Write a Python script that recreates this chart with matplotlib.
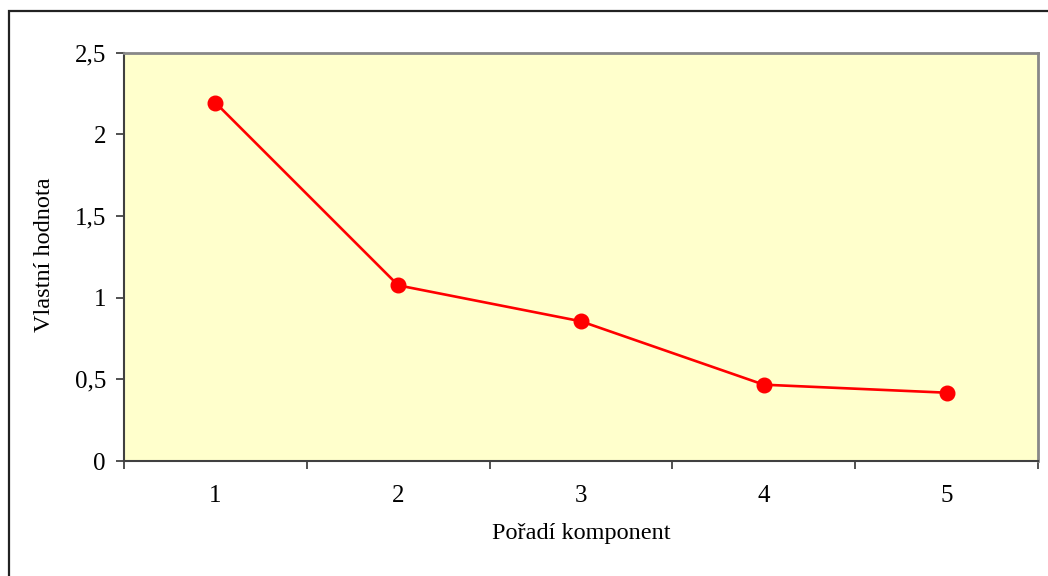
import matplotlib
matplotlib.use("Agg")
import matplotlib.pyplot as plt
from matplotlib.patches import Rectangle
from matplotlib.ticker import FixedLocator, FuncFormatter

components = [1, 2, 3, 4, 5]
eigenvalues = [2.193, 1.075, 0.855, 0.467, 0.418]
y_ticks = [0, 0.5, 1, 1.5, 2, 2.5]

plt.rcParams['font.family'] = ['Liberation Serif', 'DejaVu Serif']

W, H = 1048, 576
fig = plt.figure(figsize=(W / 100, H / 100), dpi=100)

# outer chart frame (left and top edges visible)
fig.patches.append(Rectangle((9 / W, -0.1), 1.2, 1 - 11 / H + 0.1,
                             transform=fig.transFigure, fill=False,
                             edgecolor='#222222', linewidth=1.6))

left, right, top, bottom = 124, 1038, 52.5, 461
ax = fig.add_axes([left / W, 1 - bottom / H, (right - left) / W, (bottom - top) / H])
ax.set_facecolor('#FFFFCC')

ax.plot(components, eigenvalues, color='#FF0000', linewidth=1.9,
        marker='o', markersize=10.5, markerfacecolor='#FF0000',
        markeredgecolor='#FF0000', zorder=3)

ax.set_xlim(0.5, 5.5)
ax.set_ylim(0, 2.5)

ax.set_yticks(y_ticks)
ax.yaxis.set_major_formatter(FuncFormatter(
    lambda v, p: ('%g' % v).replace('.', ',')))

# category boundaries carry the tick marks, labels sit between them
ax.xaxis.set_major_locator(FixedLocator([0.5, 1.5, 2.5, 3.5, 4.5, 5.5]))
ax.xaxis.set_major_formatter(FuncFormatter(lambda v, p: ''))
ax.xaxis.set_minor_locator(FixedLocator(components))
ax.xaxis.set_minor_formatter(FuncFormatter(lambda v, p: '%d' % v))
ax.tick_params(axis='x', which='minor', length=0, pad=17, labelsize=18)
ax.tick_params(axis='x', which='major', length=6, width=1.2,
               direction='out', color='#333333')
ax.tick_params(axis='y', length=6, width=1.2, direction='out',
               color='#333333', labelsize=18, pad=7)

for s in ('left', 'bottom'):
    ax.spines[s].set_color('#404040')
    ax.spines[s].set_linewidth(1.5)
for s in ('top', 'right'):
    ax.spines[s].set_color('#888888')
    ax.spines[s].set_linewidth(2)

fig.text(581 / W, 1 - 534 / H, 'Pořadí komponent', ha='center', va='center',
         fontsize=17.5)
fig.text(45 / W, 1 - 255 / H, 'Vlastní hodnota', ha='center', va='center',
         rotation=90, fontsize=17.5)

fig.savefig('out.png', dpi=100)
